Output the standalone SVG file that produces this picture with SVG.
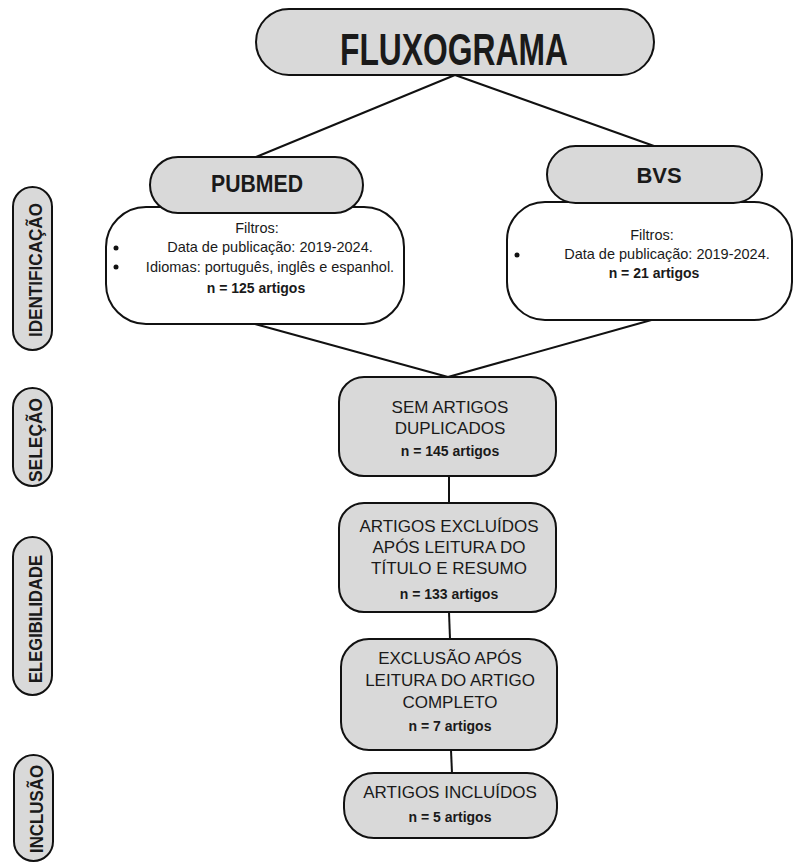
<svg xmlns="http://www.w3.org/2000/svg" width="794" height="863" viewBox="0 0 794 863">
<style>
.gray{fill:#d9d9d9;stroke:#111;stroke-width:2}
.white{fill:#fff;stroke:#111;stroke-width:2}
.side{fill:#d9d9d9;stroke:#111;stroke-width:2}
.conn{stroke:#111;stroke-width:2;fill:none}
text{font-family:"Liberation Sans",Arial,sans-serif;fill:#1a1a1a;text-anchor:middle}
.b{font-weight:bold}
.s{font-size:14.5px}
.m{font-size:17px}
.n{font-size:14px;font-weight:bold}
.lbl{font-size:19px;font-weight:bold}
</style>
<rect width="794" height="863" fill="#fff"/>
<g id="connectors">
<line class="conn" x1="455" y1="75" x2="256" y2="157"/>
<line class="conn" x1="455" y1="75" x2="654" y2="146"/>
<line class="conn" x1="255" y1="324" x2="448" y2="377"/>
<line class="conn" x1="655" y1="319" x2="448" y2="377"/>
<line class="conn" x1="449" y1="476" x2="449" y2="503"/>
<line class="conn" x1="449" y1="612" x2="450" y2="639"/>
<line class="conn" x1="451" y1="750" x2="452" y2="773"/>
</g>
<g id="side-identificacao">
<rect class="side" x="13" y="187" width="39" height="163" rx="19.5"/>
<text class="lbl" x="42" y="270" transform="rotate(-90 42 270)" textLength="134" lengthAdjust="spacingAndGlyphs">IDENTIFICAÇÃO</text>
</g>
<g id="side-selecao">
<rect class="side" x="13" y="388" width="39" height="98" rx="19.5"/>
<text class="lbl" x="42" y="440" transform="rotate(-90 42 440)" textLength="84" lengthAdjust="spacingAndGlyphs">SELEÇÃO</text>
</g>
<g id="side-elegibilidade">
<rect class="side" x="13" y="537" width="39" height="158" rx="19.5"/>
<text class="lbl" x="42" y="619" transform="rotate(-90 42 619)" textLength="128" lengthAdjust="spacingAndGlyphs">ELEGIBILIDADE</text>
</g>
<g id="side-inclusao">
<rect class="side" x="14" y="755" width="39" height="106" rx="19.5"/>
<text class="lbl" x="43" y="809" transform="rotate(-90 43 809)" textLength="88" lengthAdjust="spacingAndGlyphs">INCLUSÃO</text>
</g>
<g id="title">
<rect class="gray" x="256" y="9" width="398" height="66" rx="33"/>
<text class="b" x="454" y="65" font-size="44" textLength="228" lengthAdjust="spacingAndGlyphs">FLUXOGRAMA</text>
</g>
<g id="pubmed-filtros">
<rect class="white" x="106" y="207" width="298" height="117" rx="40"/>
<text class="s" x="257" y="233">Filtros:</text>
<circle cx="116" cy="248" r="2.5" fill="#111"/>
<text class="s" x="270" y="252">Data de publicação: 2019-2024.</text>
<circle cx="116" cy="267" r="2.5" fill="#111"/>
<text class="s" x="270" y="272">Idiomas: português, inglês e espanhol.</text>
<text class="n" x="256" y="293">n = 125 artigos</text>
</g>
<g id="pubmed">
<rect class="gray" x="150" y="157" width="213" height="56" rx="28"/>
<text class="b" x="257" y="192" font-size="23" textLength="92" lengthAdjust="spacingAndGlyphs">PUBMED</text>
</g>
<g id="bvs-filtros">
<rect class="white" x="507" y="202" width="285" height="118" rx="38"/>
<text class="s" x="652" y="240">Filtros:</text>
<circle cx="517" cy="255" r="2.5" fill="#111"/>
<text class="s" x="667" y="259">Data de publicação: 2019-2024.</text>
<text class="n" x="654" y="278">n = 21 artigos</text>
</g>
<g id="bvs">
<rect class="gray" x="547" y="146" width="215" height="57" rx="28.5"/>
<text class="b" x="659" y="183" font-size="22">BVS</text>
</g>
<g id="sem-duplicados">
<rect class="gray" x="339" y="377" width="217" height="99" rx="25"/>
<text class="m" x="450" y="413">SEM ARTIGOS</text>
<text class="m" x="450" y="434">DUPLICADOS</text>
<text class="n" x="450" y="456">n = 145 artigos</text>
</g>
<g id="excluidos-titulo">
<rect class="gray" x="339" y="503" width="217" height="109" rx="25"/>
<text class="m" x="449" y="532">ARTIGOS EXCLUÍDOS</text>
<text class="m" x="449" y="553">APÓS LEITURA DO</text>
<text class="m" x="449" y="574">TÍTULO E RESUMO</text>
<text class="n" x="449" y="599">n = 133 artigos</text>
</g>
<g id="exclusao-completo">
<rect class="gray" x="341" y="639" width="216" height="111" rx="28"/>
<text class="m" x="450" y="664">EXCLUSÃO APÓS</text>
<text class="m" x="450" y="686">LEITURA DO ARTIGO</text>
<text class="m" x="450" y="708">COMPLETO</text>
<text class="n" x="450" y="731">n = 7 artigos</text>
</g>
<g id="incluidos">
<rect class="gray" x="344" y="773" width="213" height="65" rx="30"/>
<text class="m" x="450" y="798">ARTIGOS INCLUÍDOS</text>
<text class="n" x="450" y="822">n = 5 artigos</text>
</g>
</svg>
